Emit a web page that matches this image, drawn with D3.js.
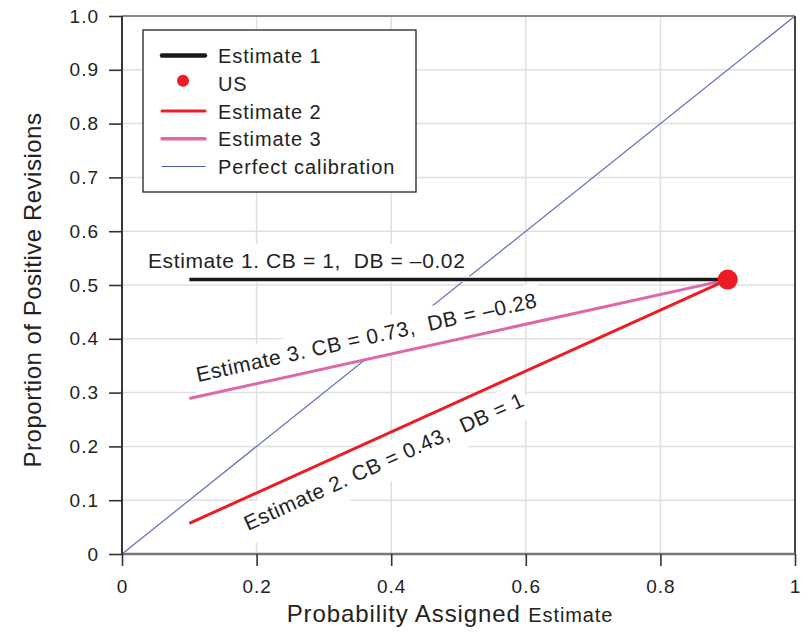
<!DOCTYPE html>
<html><head><meta charset="utf-8">
<script src="https://cdn.jsdelivr.net/npm/d3@7"></script>
<style>body{margin:0;background:#fff}svg{display:block}text{font-family:"Liberation Sans",Arial,sans-serif;fill:#222;white-space:pre}</style>
</head><body><div id="chart"></div>
<script>
const xTicks = [0, 0.2, 0.4, 0.6, 0.8, 1];
const xTickLabels = ["0", "0.2", "0.4", "0.6", "0.8", "1"];
const yTicks = [0, 0.1, 0.2, 0.3, 0.4, 0.5, 0.6, 0.7, 0.8, 0.9, 1.0];
const yTickLabels = ["0", "0.1", "0.2", "0.3", "0.4", "0.5", "0.6", "0.7", "0.8", "0.9", "1.0"];
const seriesNames = ["Estimate 1", "US", "Estimate 2", "Estimate 3", "Perfect calibration"];
const estimate1 = [[0.1, 0.51], [0.9, 0.51]];
const estimate2 = [[0.1, 0.057], [0.9, 0.51]];
const estimate3 = [[0.1, 0.289], [0.9, 0.51]];
const perfect = [[0, 0], [1, 1]];
const usPoint = [0.9, 0.51];
const labels = ["Estimate 1. CB = 1,  DB = \u20130.02", "Estimate 2. CB = 0.43,  DB = 1", "Estimate 3. CB = 0.73,  DB = \u20130.28"];

const W = 807, H = 634;
const m = {l:122, r:12, t:16, b:80};
const svg = d3.select("#chart").append("svg").attr("width", W).attr("height", H);
const x = d3.scaleLinear().domain([0,1]).range([m.l, W - m.r]);
const y = d3.scaleLinear().domain([0,1]).range([H - m.b, m.t]);
const line = d3.line().x(d => x(d[0])).y(d => y(d[1]));

// grid
svg.append("g").selectAll("line").data(xTicks.slice(1,-1)).join("line")
  .attr("x1", d => x(d)).attr("x2", d => x(d)).attr("y1", y(0)).attr("y2", y(1))
  .attr("stroke", "#e0e0e0").attr("stroke-width", 1.5);
svg.append("g").selectAll("line").data(yTicks.slice(1,-1)).join("line")
  .attr("y1", d => y(d)).attr("y2", d => y(d)).attr("x1", x(0)).attr("x2", x(1))
  .attr("stroke", "#e0e0e0").attr("stroke-width", 1.5);

// perfect calibration
svg.append("path").attr("d", line(perfect)).attr("fill", "none").attr("stroke", "#5f70b2").attr("stroke-width", 1.2);

// label placements (rotated along their lines)
function angleOf(seg){ return Math.atan2(y(seg[1][1]) - y(seg[0][1]), x(seg[1][0]) - x(seg[0][0])) * 180 / Math.PI; }
const lblDefs = [
  {text: labels[0], seg: estimate1, px: 148, py: 268},
  {text: labels[2], seg: estimate3, px: 198, py: 382},
  {text: labels[1], seg: estimate2, px: 248, py: 531}
];
const lblG = svg.append("g");
lblDefs.forEach(l => {
  const g = lblG.append("g").attr("transform", `translate(${l.px},${l.py}) rotate(${angleOf(l.seg)})`);
  const t = g.append("text").attr("font-size", 21).attr("letter-spacing", 0.6).text(l.text);
  const bb = t.node().getBBox();
  g.insert("rect", "text").attr("x", bb.x - 4).attr("y", bb.y - 5).attr("width", bb.width + 8).attr("height", bb.height + 15).attr("fill", "#fff");
});

// estimate lines
svg.append("path").attr("d", line(estimate3)).attr("fill", "none").attr("stroke", "#dc68aa").attr("stroke-width", 3);
svg.append("path").attr("d", line(estimate2)).attr("fill", "none").attr("stroke", "#ed1c24").attr("stroke-width", 3);
svg.append("path").attr("d", line(estimate1)).attr("fill", "none").attr("stroke", "#1a1a1a").attr("stroke-width", 3.5);
svg.append("circle").attr("cx", x(usPoint[0])).attr("cy", y(usPoint[1])).attr("r", 10).attr("fill", "#ed1c24");

// frame
svg.append("line").attr("x1", x(0)).attr("x2", x(1)).attr("y1", y(1)).attr("y2", y(1)).attr("stroke", "#888").attr("stroke-width", 2);
svg.append("line").attr("x1", x(1)).attr("x2", x(1)).attr("y1", y(0)).attr("y2", y(1)).attr("stroke", "#444").attr("stroke-width", 2);
svg.append("line").attr("x1", x(0)).attr("x2", x(1)).attr("y1", y(0)).attr("y2", y(0)).attr("stroke", "#777").attr("stroke-width", 2.5);
svg.append("line").attr("x1", x(0)).attr("x2", x(0)).attr("y1", y(0)).attr("y2", y(1)).attr("stroke", "#222").attr("stroke-width", 1.8);

// axes
const xAxis = d3.axisBottom(x).tickValues(xTicks).tickFormat((d,i) => xTickLabels[i]).tickSize(12).tickPadding(14);
const gx = svg.append("g").attr("transform", `translate(0,${y(0)})`).call(xAxis);
gx.select(".domain").remove();
gx.selectAll(".tick line").attr("stroke", "#333").attr("stroke-width", 1.6);
gx.selectAll(".tick text").attr("font-size", 19).attr("letter-spacing", 1).attr("font-family", "Liberation Sans, Arial, sans-serif").attr("fill", "#222");
const yAxis = d3.axisLeft(y).tickValues(yTicks).tickFormat((d,i) => yTickLabels[i]).tickSize(13).tickPadding(10);
const gy = svg.append("g").attr("transform", `translate(${x(0)},0)`).call(yAxis);
gy.select(".domain").remove();
gy.selectAll(".tick line").attr("stroke", "#333").attr("stroke-width", 1.6);
gy.selectAll(".tick text").attr("font-size", 19).attr("letter-spacing", 1).attr("font-family", "Liberation Sans, Arial, sans-serif").attr("fill", "#222");

// axis titles
const xt = svg.append("text").attr("x", 450).attr("y", 622).attr("text-anchor", "middle").attr("font-size", 24).attr("letter-spacing", 0.9);
xt.append("tspan").text("Probability Assigned ");
xt.append("tspan").attr("font-size", 20).text("Estimate");
svg.append("text").attr("transform", `translate(41,290) rotate(-90)`).attr("text-anchor", "middle").attr("font-size", 24).attr("letter-spacing", 0.5)
  .text("Proportion of Positive Revisions");

// legend
const lg = svg.append("g");
lg.append("rect").attr("x", 143).attr("y", 30).attr("width", 273).attr("height", 162).attr("fill", "#fff").attr("stroke", "#222").attr("stroke-width", 1.3);
const legendStyles = [
  {type:"line", color:"#1a1a1a", w:4.5},
  {type:"dot", color:"#ed1c24"},
  {type:"line", color:"#ed1c24", w:3},
  {type:"line", color:"#dc68aa", w:3.5},
  {type:"line", color:"#4a5aaa", w:1.2}
];
seriesNames.forEach((name, i) => {
  const base = 63 + i * 27.75;
  const s = legendStyles[i];
  if (s.type === "line") lg.append("line").attr("x1", 162).attr("x2", 205).attr("y1", base - 7.5).attr("y2", base - 7.5).attr("stroke", s.color).attr("stroke-width", s.w).attr("stroke-linecap", "round");
  else lg.append("circle").attr("cx", 183).attr("cy", base - 10).attr("r", 6).attr("fill", s.color);
  lg.append("text").attr("x", 218).attr("y", base).attr("font-size", 20).attr("letter-spacing", 0.9).text(name);
});
</script></body></html>
